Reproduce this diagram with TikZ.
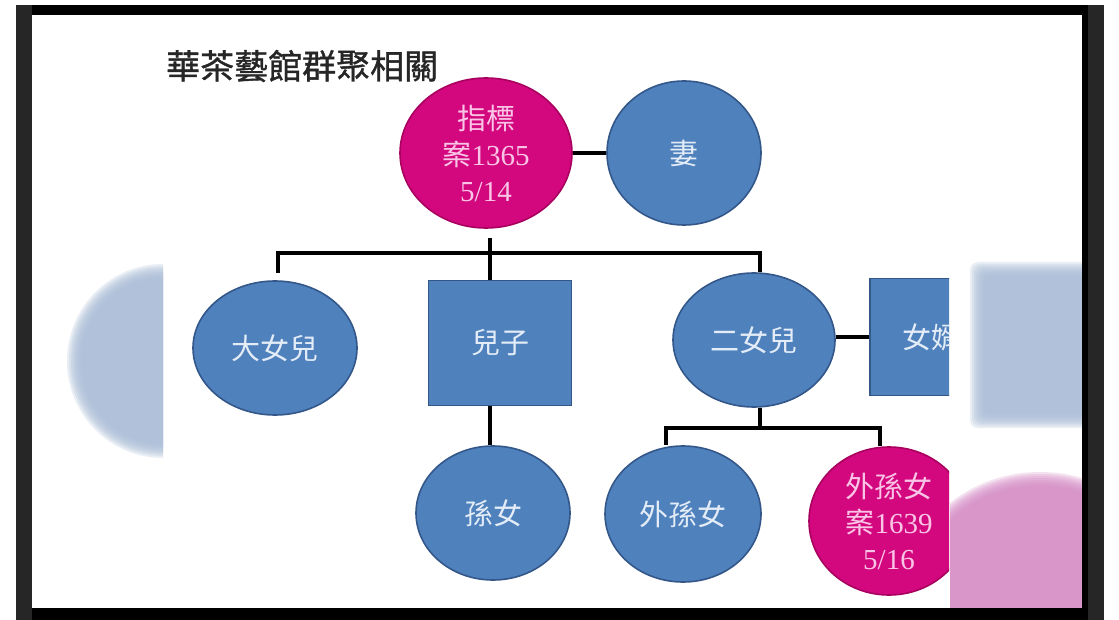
\documentclass[tikz,border=0pt]{standalone}
\usepackage{fontspec}
\usetikzlibrary{shapes.geometric}
\newfontfamily\cjk{Noto Sans CJK TC}
\newfontfamily\cjkb[FakeBold=1.2]{Noto Sans CJK TC}
\newfontfamily\lser{Liberation Serif}
\newcommand\dg[1]{{\lser #1}}
\definecolor{nblue}{HTML}{4F81BD}
\definecolor{nblueb}{HTML}{34578A}
\definecolor{npink}{HTML}{D4087E}
\definecolor{npinkb}{HTML}{A8005E}
\definecolor{tblue}{HTML}{E4EDF7}
\definecolor{tpink}{HTML}{F9C4E6}
\definecolor{blurblue}{HTML}{A9BCD7}
\definecolor{blurpink}{HTML}{D68CC6}
\definecolor{framegray}{HTML}{262626}
\begin{document}
\begin{tikzpicture}[x=1pt,y=-1pt,
  base/.style={inner sep=0pt, line width=1.6pt, align=center, font=\cjk\fontsize{29}{36}\selectfont},
  bluecirc/.style={base, ellipse, draw=nblueb, fill=nblue, text=tblue},
  pinkcirc/.style={base, ellipse, draw=npinkb, fill=npink, text=tpink},
  bluebox/.style={base, rectangle, draw=nblueb, fill=nblue, text=tblue},
  link/.style={line width=3.2pt, black}]
\useasboundingbox (0,0) rectangle (1119,620);
\fill[white] (0,0) rectangle (1119,620);

% blurred neighbours of the slide
\begin{scope}
  \clip (60,250) rectangle (163,470);
  \foreach \k in {0,...,7}
    \fill[blurblue, opacity=0.25] (163,361) ellipse [x radius={96pt-2pt*\k}, y radius={97pt-2pt*\k}];
\end{scope}
\begin{scope}
  \clip (950,240) rectangle (1082,440);
  \foreach \k in {0,...,7}
    \fill[blurblue, opacity=0.25, rounded corners=8pt] ({970+2*\k},{262+2*\k}) rectangle (1095,{428-2*\k});
\end{scope}
\begin{scope}
  \clip (950,440) rectangle (1082,608);
  \foreach \k in {0,...,7}
    \fill[blurpink, opacity=0.25] (1040,600) ellipse [x radius={138pt-2pt*\k}, y radius={128pt-2pt*\k}];
\end{scope}

% title
\node[anchor=west, font=\cjkb\fontsize{34}{40}\selectfont, text=black!85, inner sep=0pt] (title) at (166,66) {華茶藝館群聚相關};

% nodes
\node[pinkcirc, minimum width=172pt, minimum height=150pt] (idx) at (486,153) {指標\\案\dg{1365}\\\dg{5/14}};
\node[bluecirc, minimum width=154pt, minimum height=144pt] (wife) at (684,153) {妻};
\node[bluecirc, minimum width=164pt, minimum height=134pt] (d1) at (275,348) {大女兒};
\node[bluebox, minimum width=143pt, minimum height=125pt] (son) at (500,343) {兒子};
\node[bluecirc, minimum width=162pt, minimum height=134pt] (d2) at (754,340) {二女兒};
\begin{scope}
  \clip (0,0) rectangle (949,620);
  \node[bluebox, minimum width=122pt, minimum height=117pt] (sil) at (931,337) {女婿};
  \node[pinkcirc, minimum width=160pt, minimum height=148pt] (gd3) at (889,521) {外孫女\\案\dg{1639}\\\dg{5/16}};
\end{scope}
\node[bluecirc, minimum width=154pt, minimum height=134pt] (gd1) at (493,513) {孫女};
\node[bluecirc, minimum width=156pt, minimum height=136pt] (gd2) at (683,514) {外孫女};

% connectors
\coordinate (idxdrop) at (490,238);
\coordinate (busL) at (278,253);
\coordinate (busM) at (490,253);
\coordinate (busR) at (760,253);
\coordinate (d1top) at (278,273);
\coordinate (bus2L) at (666,428);
\coordinate (bus2R) at (880,428);
\draw[link] (idx.east) -- (wife.west);
\draw[link] (idxdrop) -- (busM);
\draw[link] (d1top) -- (busL) -- (busR) -- (busR |- d2.north);
\draw[link] (busM) -- (busM |- son.north);
\draw[link] (busM |- son.south) -- (busM |- gd1.north);
\draw[link] (sil.west) -- (sil.west -| d2.east);
\draw[link] (busR |- d2.south) -- (busR |- bus2L);
\draw[link] (bus2L |- gd2.north) -- (bus2L) -- (bus2R) -- (bus2R |- gd3.north);

% frame of the screenshot
\fill[framegray] (16,5) rectangle (32,620);
\fill[framegray] (1088,5) rectangle (1104,620);
\fill[black] (32,5) rectangle (1088,15);
\fill[black] (1082,15) rectangle (1088,620);
\fill[black] (32,608) rectangle (1088,620);
\end{tikzpicture}
\end{document}
